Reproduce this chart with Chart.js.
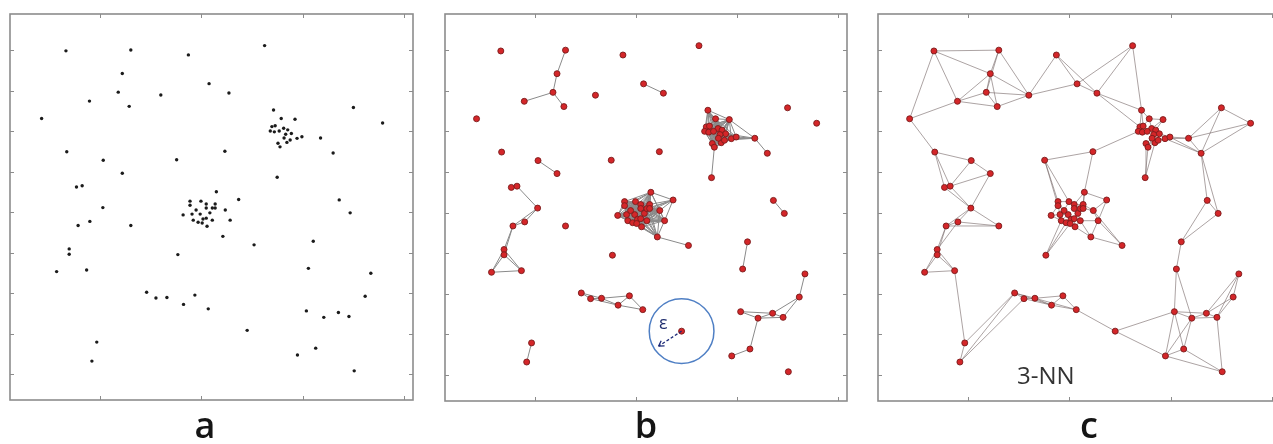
<!DOCTYPE html>
<html lang="en">
<head>
    <meta charset="UTF-8">
    <title>Neighbourhood graphs</title>
    <script src="https://cdnjs.cloudflare.com/ajax/libs/Chart.js/4.4.1/chart.umd.min.js"></script>
    <style>
        body {
            margin: 0;
            width: 1273px;
            height: 444px;
            overflow: hidden;
            background: #fff;
            position: relative;
            font-family: "Open Sans", sans-serif;
        }
        canvas {
            position: absolute;
            top: 0;
        }
        .letter {
            position: absolute;
            top: 407px;
            width: 60px;
            margin-left: -30px;
            text-align: center;
            font-size: 36px;
            font-weight: 600;
            line-height: 36px;
            color: #151515;
        }
        .note {
            position: absolute;
            white-space: nowrap;
        }
    </style>
</head>
<body>
    <canvas id="chartA" width="425" height="444" style="left:0;"></canvas>
    <canvas id="chartB" width="426" height="444" style="left:433px;"></canvas>
    <canvas id="chartC" width="427" height="444" style="left:866px;"></canvas>

    <div class="letter" style="left:205px;">a</div>
    <div class="letter" style="left:646px;">b</div>
    <div class="letter" style="left:1089px;">c</div>
    <div class="note" style="left:659px; top:310px; font-size:18px; color:#1f2d6e;">ε</div>
    <div class="note" style="left:1017px; top:358px; font-size:24px; color:#333;">3-NN</div>

    <script>
        // scattered points (same positions in all three panels)
        const sparseX = [16.6, 32.6, 46.8, 51.9, 65.6, 30.5, 29.5, 40.0, 22.4, 32.2,
                         10.6, 16.8, 25.8, 43.9, 30.5, 19.2, 20.6, 56.8, 87.5, 94.7,
                         82.5, 79.4, 55.8, 68.7, 53.7, 59.2, 84.0, 25.7, 19.6, 22.5,
                         32.6, 17.4, 17.4, 14.3, 21.7, 44.2, 36.5, 38.8, 41.5, 45.6,
                         48.4, 51.7, 24.2, 23.0, 55.3, 63.0, 77.6, 86.7, 76.4, 91.8,
                         90.4, 75.9, 80.2, 83.8, 86.4, 61.3, 78.2, 73.7, 87.7];
        const sparseY = [89.8, 90.0, 88.8, 81.7, 91.1, 84.2, 79.6, 78.9, 77.4, 76.1,
                         73.1, 64.9, 62.8, 62.9, 59.6, 56.2, 56.5, 79.4, 75.8, 72.0,
                         64.6, 68.3, 65.0, 58.6, 55.0, 53.1, 53.0, 51.1, 46.7, 47.7,
                         46.7, 40.9, 39.6, 35.3, 35.7, 39.5, 30.2, 28.8, 28.9, 27.2,
                         29.5, 26.1, 17.9, 13.2, 44.0, 41.9, 42.8, 49.8, 36.1, 34.9,
                         29.2, 25.6, 24.0, 25.2, 24.2, 20.8, 16.4, 14.7, 10.8];

        // dense group in the middle
        const cluster1X = [45.5, 47.2, 47.2, 47.7, 48.0, 49.2, 49.7, 49.9, 50.4, 51.2, 51.2,
                           51.2, 51.4, 52.1, 52.7, 53.4, 53.4, 52.7, 55.9, 57.1, 50.2, 48.7];
        const cluster1Y = [49.3, 52.7, 51.7, 49.5, 48.0, 47.5, 49.5, 52.7, 48.3, 52.0, 51.0,
                           48.5, 46.5, 49.8, 51.0, 52.0, 51.0, 48.0, 50.5, 48.0, 47.3, 50.5];

        // dense group upper right
        const cluster2X = [67.8, 69.7, 73.1, 67.4, 68.2, 67.0, 68.0, 70.3, 71.3, 72.2,
                           70.8, 73.6, 74.8, 68.9, 69.4, 71.1, 71.9, 69.2, 70.4];
        const cluster2Y = [75.2, 73.1, 72.9, 71.1, 71.3, 70.0, 69.8, 70.7, 70.3, 69.4,
                           69.2, 68.2, 68.6, 67.0, 66.1, 67.2, 67.8, 70.0, 68.3];

        const xTicks = [25, 50, 75, 100];
        const yTicks = [10, 20, 30, 40, 50, 60, 70, 80, 90];
        const xRange = [2.8, 102.2];
        const yRange = [3.6, 98.9];

        const epsilon = 8;          // radius of the neighbourhood in panel b
        const epsCentreIndex = 55;  // point the circle is drawn around
        const kNeighbours = 3;      // panel c

        const allX = sparseX.concat(cluster1X, cluster2X);
        const allY = sparseY.concat(cluster1Y, cluster2Y);
        const points = allX.map((x, i) => ({ x: x, y: allY[i] }));

        function dist(i, j) {
            return Math.hypot(allX[i] - allX[j], allY[i] - allY[j]);
        }

        function epsilonEdges(eps) {
            const edges = [];
            for (let i = 0; i < points.length; i++) {
                for (let j = i + 1; j < points.length; j++) {
                    if (dist(i, j) < eps) edges.push([i, j]);
                }
            }
            return edges;
        }

        function knnEdges(k) {
            const seen = new Set();
            const edges = [];
            for (let i = 0; i < points.length; i++) {
                const others = points.map((p, j) => j).filter(j => j !== i);
                others.sort((a, b) => dist(i, a) - dist(i, b));
                others.slice(0, k).forEach(j => {
                    const key = Math.min(i, j) + '-' + Math.max(i, j);
                    if (!seen.has(key)) {
                        seen.add(key);
                        edges.push([i, j]);
                    }
                });
            }
            return edges;
        }

        function edgeDatasets(edges, colour, width) {
            return edges.map(([i, j]) => ({
                data: [points[i], points[j]],
                showLine: true,
                pointRadius: 0,
                borderColor: colour,
                borderWidth: width
            }));
        }

        // box with inward tick marks, MATLAB style
        const framePlugin = {
            id: 'frame',
            afterDraw(chart) {
                const { ctx, chartArea: a, scales } = chart;
                ctx.save();
                ctx.strokeStyle = '#8c8c8c';
                ctx.lineWidth = 1.6;
                ctx.strokeRect(a.left, a.top, a.right - a.left, a.bottom - a.top);
                ctx.lineWidth = 1;
                ctx.beginPath();
                xTicks.forEach(v => {
                    const px = Math.round(scales.x.getPixelForValue(v)) + 0.5;
                    ctx.moveTo(px, a.top); ctx.lineTo(px, a.top + 4);
                    ctx.moveTo(px, a.bottom); ctx.lineTo(px, a.bottom - 4);
                });
                yTicks.forEach(v => {
                    const py = Math.round(scales.y.getPixelForValue(v)) + 0.5;
                    ctx.moveTo(a.left, py); ctx.lineTo(a.left + 4, py);
                    ctx.moveTo(a.right, py); ctx.lineTo(a.right - 4, py);
                });
                ctx.stroke();
                ctx.restore();
            }
        };

        // circle of radius epsilon plus dashed arrow
        const epsPlugin = {
            id: 'epsCircle',
            afterDatasetsDraw(chart) {
                const { ctx, scales } = chart;
                const cx = scales.x.getPixelForValue(allX[epsCentreIndex]);
                const cy = scales.y.getPixelForValue(allY[epsCentreIndex]);
                const r = scales.x.getPixelForValue(allX[epsCentreIndex] + epsilon) - cx;
                ctx.save();
                ctx.strokeStyle = '#4f7fc4';
                ctx.lineWidth = 1.5;
                ctx.beginPath();
                ctx.arc(cx, cy, r, 0, Math.PI * 2);
                ctx.stroke();

                const ang = Math.atan2(15, -23);
                const ex = cx + Math.cos(ang) * r * 0.85;
                const ey = cy + Math.sin(ang) * r * 0.85;
                ctx.strokeStyle = '#1c2a78';
                ctx.lineWidth = 1.3;
                ctx.setLineDash([3, 2]);
                ctx.beginPath();
                ctx.moveTo(cx, cy);
                ctx.lineTo(ex, ey);
                ctx.stroke();
                ctx.setLineDash([]);
                ctx.beginPath();
                ctx.moveTo(ex, ey);
                ctx.lineTo(ex + Math.cos(ang + 2.6) * 6, ey + Math.sin(ang + 2.6) * 6);
                ctx.moveTo(ex, ey);
                ctx.lineTo(ex + Math.cos(ang - 2.6) * 6, ey + Math.sin(ang - 2.6) * 6);
                ctx.stroke();
                ctx.restore();
            }
        };

        function makeChart(id, datasets, padding, plugins) {
            return new Chart(document.getElementById(id), {
                type: 'scatter',
                data: { datasets: datasets },
                options: {
                    responsive: false,
                    animation: false,
                    events: [],
                    layout: { padding: padding },
                    plugins: { legend: { display: false }, tooltip: { enabled: false } },
                    scales: {
                        x: { type: 'linear', min: xRange[0], max: xRange[1], display: false },
                        y: { type: 'linear', min: yRange[0], max: yRange[1], display: false }
                    }
                },
                plugins: [framePlugin].concat(plugins)
            });
        }

        const blackDots = {
            data: points,
            pointRadius: 1.7,
            pointBackgroundColor: '#1b1b1b',
            pointBorderWidth: 0
        };
        const redDots = () => ({
            data: points,
            pointRadius: 3,
            pointBackgroundColor: '#d42629',
            pointBorderColor: '#7a1c1c',
            pointBorderWidth: 0.9
        });

        makeChart('chartA', [blackDots], { left: 10, top: 14, right: 12, bottom: 44 }, []);

        makeChart('chartB',
            [redDots()].concat(edgeDatasets(epsilonEdges(epsilon), '#8a8a8a', 1)),
            { left: 12, top: 14, right: 12, bottom: 43 }, [epsPlugin]);

        makeChart('chartC',
            [redDots()].concat(edgeDatasets(knnEdges(kNeighbours), 'rgba(125,110,110,0.8)', 0.8)),
            { left: 12, top: 14, right: 12, bottom: 43 }, []);
    </script>
</body>
</html>
